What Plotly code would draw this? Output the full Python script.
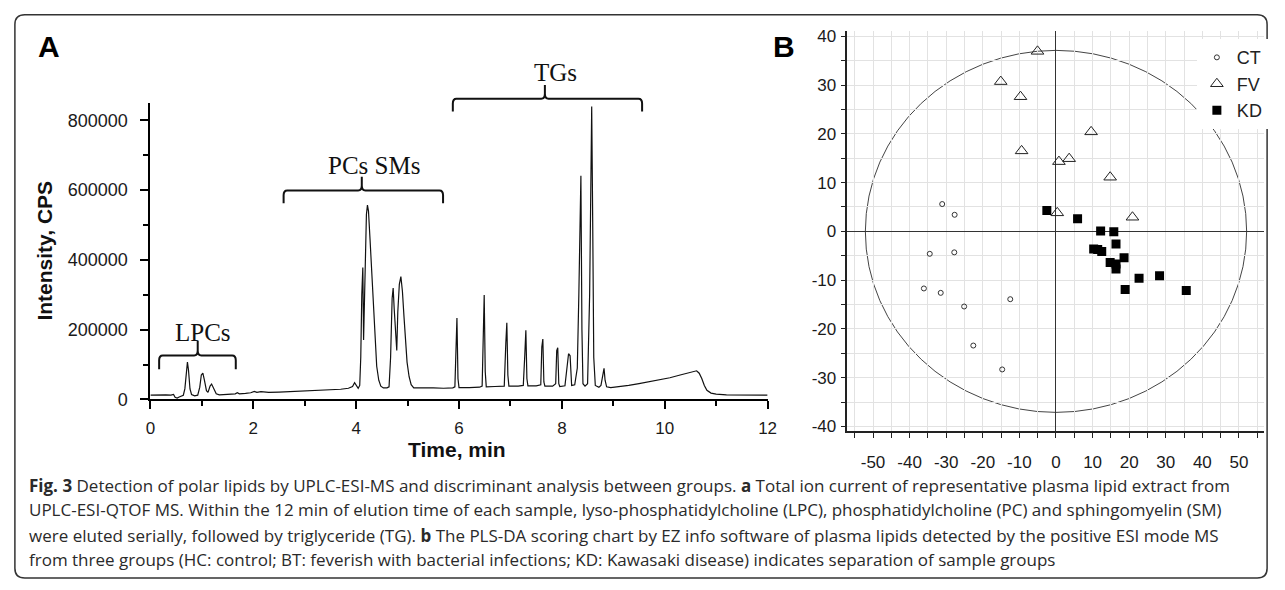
import plotly.graph_objects as go

W, H = 1285, 590

# ---------------- Panel A data: total ion chromatogram ----------------
time_min = [0.00, 0.10, 0.20, 0.30, 0.40, 0.45, 0.48, 0.52, 0.56, 0.60, 0.64, 0.67, 0.70, 0.72, 0.74,
            0.77, 0.80, 0.86, 0.92, 0.96, 0.99, 1.02, 1.05, 1.09, 1.12, 1.16, 1.19, 1.23, 1.28, 1.34,
            1.45, 1.55, 1.65, 1.69, 1.73, 1.85, 1.95, 2.02, 2.07, 2.15, 2.30, 2.50, 2.70, 2.90, 3.10,
            3.30, 3.50, 3.70, 3.85, 3.93, 3.97, 4.00, 4.04, 4.07, 4.09, 4.11, 4.13, 4.145, 4.16, 4.18,
            4.20, 4.22, 4.24, 4.27, 4.30, 4.33, 4.36, 4.40, 4.44, 4.48, 4.53, 4.60, 4.64, 4.67, 4.70,
            4.72, 4.74, 4.77, 4.79, 4.81, 4.84, 4.87, 4.90, 4.93, 4.96, 4.99, 5.03, 5.07, 5.12, 5.30,
            5.50, 5.70, 5.88, 5.92, 5.94, 5.96, 5.98, 6.00, 6.20, 6.40, 6.45, 6.47, 6.49, 6.51, 6.53,
            6.70, 6.88, 6.91, 6.93, 6.95, 6.97, 7.15, 7.25, 7.28, 7.30, 7.32, 7.34, 7.50, 7.59, 7.61,
            7.63, 7.65, 7.67, 7.82, 7.88, 7.90, 7.92, 7.94, 7.96, 8.06, 8.10, 8.13, 8.16, 8.19, 8.25,
            8.30, 8.33, 8.35, 8.37, 8.39, 8.41, 8.45, 8.50, 8.54, 8.56, 8.58, 8.60, 8.62, 8.65, 8.72,
            8.76, 8.80, 8.82, 8.84, 8.87, 8.95, 9.10, 9.30, 9.50, 9.70, 9.90, 10.10, 10.30, 10.45,
            10.55, 10.62, 10.67, 10.72, 10.77, 10.82, 10.90, 11.00, 11.20, 11.50, 12.00]
intensity_cps = [12000, 13000, 12000, 13000, 12000, 14000, 6000, 4000, 7000, 9000, 12000, 30000, 95000, 107000, 85000,
                 30000, 14000, 10000, 12000, 35000, 70000, 75000, 55000, 25000, 20000, 38000, 44000, 30000, 16000, 13000,
                 14000, 15000, 16000, 19000, 16000, 17000, 19000, 23000, 20000, 22000, 20000, 21000, 22000, 23000, 25000,
                 26000, 28000, 29000, 32000, 37000, 48000, 40000, 32000, 40000, 120000, 300000, 378000, 170000, 250000, 430000,
                 530000, 557000, 540000, 460000, 370000, 270000, 180000, 95000, 55000, 38000, 33000, 33000, 36000, 120000, 290000,
                 319000, 260000, 180000, 140000, 250000, 330000, 352000, 310000, 238000, 170000, 107000, 65000, 42000, 33000, 32000,
                 33000, 32000, 33000, 36000, 150000, 233000, 60000, 34000, 34000, 35000, 38000, 200000, 299000, 80000, 36000,
                 37000, 38000, 160000, 220000, 70000, 38000, 38000, 40000, 130000, 198000, 60000, 39000, 39000, 42000, 150000,
                 173000, 50000, 38000, 38000, 45000, 140000, 148000, 45000, 37000, 39000, 100000, 131000, 125000, 40000, 42000,
                 90000, 300000, 560000, 641000, 200000, 45000, 38000, 45000, 300000, 650000, 840000, 500000, 120000, 40000, 35000,
                 40000, 80000, 89000, 55000, 36000, 34000, 36000, 40000, 45000, 50000, 56000, 62000, 70000, 76000,
                 80000, 82000, 75000, 60000, 40000, 26000, 18000, 15000, 13000, 12000, 12000]

a_xticks = [0, 2, 4, 6, 8, 10, 12]
a_yticks = [0, 200000, 400000, 600000, 800000]

# bracket groups: label, left, middle, right (min)
bracket_labels = ["LPCs", "PCs SMs", "TGs"]
bracket_left = [0.17, 2.59, 5.88]
bracket_mid = [0.92, 4.11, 7.67]
bracket_right = [1.66, 5.69, 9.56]
bracket_label_x = [1.03, 4.34, 7.875]

# ---------------- Panel B data: PLS-DA scores ----------------
ct_x = [-31.1, -27.7, -34.5, -27.8, -36.1, -31.5, -25.1, -12.5, -22.6, -14.7]
ct_y = [5.6, 3.4, -4.6, -4.3, -11.7, -12.6, -15.4, -13.9, -23.4, -28.3]
fv_x = [-5.05, -15.1, -9.7, -9.4, 0.8, 3.6, 9.6, 14.8, 0.35, 20.9]
fv_y = [36.9, 30.7, 27.6, 16.5, 14.3, 14.9, 20.4, 11.1, 3.8, 2.9]
kd_x = [-2.5, 5.9, 12.2, 15.8, 16.4, 10.3, 11.4, 12.5, 18.6, 14.8, 16.4, 16.4, 22.7, 28.3, 18.9, 35.6]
kd_y = [4.3, 2.6, 0.1, -0.1, -2.6, -3.6, -3.7, -4.1, -5.4, -6.4, -6.7, -7.7, -9.6, -9.1, -11.9, -12.1]
ellipse_ax = [52.1, 37.1]
b_xticks = [-50, -40, -30, -20, -10, 0, 10, 20, 30, 40, 50]
b_yticks = [-40, -30, -20, -10, 0, 10, 20, 30, 40]

caption_lines = [
    "<b>Fig. 3</b> Detection of polar lipids by UPLC-ESI-MS and discriminant analysis between groups. <b>a</b> Total ion current of representative plasma lipid extract from",
    "UPLC-ESI-QTOF MS. Within the 12 min of elution time of each sample, lyso-phosphatidylcholine (LPC), phosphatidylcholine (PC) and sphingomyelin (SM)",
    "were eluted serially, followed by triglyceride (TG). <b>b</b> The PLS-DA scoring chart by EZ info software of plasma lipids detected by the positive ESI mode MS",
    "from three groups (HC: control; BT: feverish with bacterial infections; KD: Kawasaki disease) indicates separation of sample groups",
]

# ---------------- layout geometry ----------------
def px(x):
    return x / W

def py(y):
    return 1 - y / H

A_XDOM = [px(147), px(771)]
A_YDOM = [py(405), py(101)]
A_YR = [0, 851000]
B_XDOM = [px(851.7), px(1272.7)]
B_YDOM = [py(437.3), py(28)]
B_XR = [-57.0, 56.8]
B_YR = [-40.9, 41.0]

fig = go.Figure()

fig.add_trace(go.Scatter(x=time_min, y=intensity_cps, mode="lines",
                         line=dict(color="#111111", width=1.2), showlegend=False,
                         xaxis="x", yaxis="y"))

fig.add_trace(go.Scatter(x=ct_x, y=ct_y, mode="markers", name="CT",
                         marker=dict(symbol="circle-open", size=5, color="#333333", line=dict(width=1)),
                         xaxis="x2", yaxis="y2"))
fig.add_trace(go.Scatter(x=fv_x, y=fv_y, mode="markers", name="FV",
                         marker=dict(symbol="triangle-up-open", size=11, color="#222222", line=dict(width=1)),
                         xaxis="x2", yaxis="y2"))
fig.add_trace(go.Scatter(x=kd_x, y=kd_y, mode="markers", name="KD",
                         marker=dict(symbol="square", size=9, color="#000000"),
                         xaxis="x2", yaxis="y2"))

shapes = []
annotations = []

# brackets (panel A): pixel y of (horizontal line, end, tip, label centre)
bracket_px = [
    (360, 374, 345, 336),
    (191, 204, 177, 165),
    (97, 110, 83, 70),
]
for lab, xl, xm, xr, lx, (yl, ye, yt, ylab) in zip(bracket_labels, bracket_left, bracket_mid,
                                                    bracket_right, bracket_label_x, bracket_px):
    w = 0.07
    line_p, end_p, tip_p = py(yl), py(ye), py(yt)
    c = 5 / H
    path = (f"M {xl},{end_p} L {xl},{line_p - c} Q {xl},{line_p} {xl + w},{line_p} "
            f"L {xm - w},{line_p} Q {xm},{line_p} {xm},{line_p + c} L {xm},{tip_p} "
            f"M {xm},{line_p + c} Q {xm},{line_p} {xm + w},{line_p} "
            f"L {xr - w},{line_p} Q {xr},{line_p} {xr},{line_p - c} L {xr},{end_p}")
    shapes.append(dict(type="path", path=path, xref="x", yref="paper",
                       line=dict(color="#111111", width=2)))
    annotations.append(dict(text=lab, x=lx, y=py(ylab), xref="x", yref="paper",
                            showarrow=False, xanchor="center", yanchor="middle",
                            font=dict(family="Liberation Serif, Times New Roman, serif", size=25, color="#111111")))

# ellipse (panel B)
shapes.append(dict(type="circle", xref="x2", yref="y2", x0=-ellipse_ax[0], x1=ellipse_ax[0],
                   y0=-ellipse_ax[1], y1=ellipse_ax[1], line=dict(color="#444444", width=1), layer="below"))

# outer rounded frame
fx0, fy0, fx1, fy1, r = 10, 11, 1276, 588, 10
frame = (f"M {px(fx0 + r)},{py(fy0)} L {px(fx1 - r)},{py(fy0)} Q {px(fx1)},{py(fy0)} {px(fx1)},{py(fy0 + r)} "
         f"L {px(fx1)},{py(fy1 - r)} Q {px(fx1)},{py(fy1)} {px(fx1 - r)},{py(fy1)} "
         f"L {px(fx0 + r)},{py(fy1)} Q {px(fx0)},{py(fy1)} {px(fx0)},{py(fy1 - r)} "
         f"L {px(fx0)},{py(fy0 + r)} Q {px(fx0)},{py(fy0)} {px(fx0 + r)},{py(fy0)} Z")
shapes.append(dict(type="path", path=frame, xref="paper", yref="paper",
                   line=dict(color="#333333", width=1.5)))

# panel letters
annotations.append(dict(text="<b>A</b>", x=px(44), y=py(44), xref="paper", yref="paper", showarrow=False,
                        xanchor="center", yanchor="middle",
                        font=dict(family="Liberation Sans, Arial", size=30, color="#000000")))
annotations.append(dict(text="<b>B</b>", x=px(788), y=py(44), xref="paper", yref="paper", showarrow=False,
                        xanchor="center", yanchor="middle",
                        font=dict(family="Liberation Sans, Arial", size=30, color="#000000")))

# axis titles panel A
annotations.append(dict(text="<b>Intensity, CPS</b>", x=px(40), y=py(253), xref="paper", yref="paper",
                        showarrow=False, textangle=-90, xanchor="center", yanchor="middle",
                        font=dict(family="Liberation Sans, Arial", size=21, color="#111111")))
annotations.append(dict(text="<b>Time, min</b>", x=px(457), y=py(456), xref="paper", yref="paper",
                        showarrow=False, xanchor="center", yanchor="middle",
                        font=dict(family="Liberation Sans, Arial", size=21, color="#111111")))

# caption
cap_y = [493, 518, 544, 569]
for txt, yy in zip(caption_lines, cap_y):
    annotations.append(dict(text=txt, x=px(22), y=py(yy), xref="paper", yref="paper", showarrow=False,
                            xanchor="left", yanchor="middle",
                            font=dict(family="Open Sans, sans-serif", size=17, color="#2a2a2a")))

tickfont_a = dict(family="Liberation Sans, Arial", size=18, color="#1a1a1a")
tickfont_b = dict(family="Liberation Sans, Arial", size=17, color="#1a1a1a")

fig.update_layout(
    width=W, height=H, margin=dict(l=0, r=0, t=0, b=0),
    paper_bgcolor="white", plot_bgcolor="white",
    shapes=shapes, annotations=annotations,
    xaxis=dict(domain=A_XDOM, range=[0, 12], anchor="y", tickvals=a_xticks,
               showgrid=False, zeroline=False, showline=True, linecolor="#000000", linewidth=2,
               ticks="outside", ticklen=8, tickwidth=1.5, tickcolor="#000000",
               minor=dict(dtick=1, tick0=0, ticks="outside", ticklen=5, tickwidth=1.5, tickcolor="#000000", showgrid=False),
               tickfont=dict(family="Liberation Sans, Arial", size=17, color="#1a1a1a"), ticklabelstandoff=4),
    yaxis=dict(domain=A_YDOM, range=A_YR, anchor="x", tickvals=a_yticks, tickformat="d",
               showgrid=False, zeroline=False, showline=True, linecolor="#000000", linewidth=2,
               ticks="outside", ticklen=8, tickwidth=1.5, tickcolor="#000000",
               minor=dict(dtick=100000, tick0=0, ticks="outside", ticklen=5, tickwidth=1.5, tickcolor="#000000", showgrid=False),
               tickfont=tickfont_a, ticklabelstandoff=9),
    xaxis2=dict(domain=B_XDOM, range=B_XR, anchor="y2", tickvals=b_xticks,
                ticktext=[str(v) for v in b_xticks],
                showgrid=True, gridcolor="#e2e2e2", gridwidth=1,
                zeroline=True, zerolinecolor="#333333", zerolinewidth=1,
                showline=True, linecolor="#222222", linewidth=1.5,
                ticks="outside", ticklen=5, tickwidth=1, tickcolor="#222222",
                minor=dict(dtick=5, tick0=0, ticks="outside", ticklen=5, tickwidth=1, tickcolor="#222222",
                           showgrid=True, gridcolor="#e2e2e2", gridwidth=1),
                tickfont=tickfont_b, ticklabelstandoff=10),
    yaxis2=dict(domain=B_YDOM, range=B_YR, anchor="x2", tickvals=b_yticks,
                ticktext=[str(v) for v in b_yticks],
                showgrid=True, gridcolor="#e2e2e2", gridwidth=1,
                zeroline=True, zerolinecolor="#333333", zerolinewidth=1,
                showline=True, linecolor="#222222", linewidth=1.5,
                ticks="outside", ticklen=5, tickwidth=1, tickcolor="#222222",
                minor=dict(dtick=5, tick0=0, ticks="outside", ticklen=5, tickwidth=1, tickcolor="#222222",
                           showgrid=True, gridcolor="#e2e2e2", gridwidth=1),
                tickfont=tickfont_b, ticklabelstandoff=1),
    legend=dict(x=px(1205), y=py(36), xanchor="left", yanchor="top", bgcolor="white",
                borderwidth=0, font=dict(family="Liberation Sans, Arial", size=18, color="#222222"),
                itemsizing="trace", tracegroupgap=0),
)

fig.write_html(
    "out.html",
    config={"displayModeBar": False},
    post_script=("document.documentElement.style.margin='0';document.body.style.margin='0';"
                 "document.body.style.padding='0';document.body.style.overflow='hidden';"
                 "document.documentElement.style.overflow='hidden';"
                 "var gd=document.getElementById('{plot_id}');"
                 "gd.style.display='block';"
                 "gd.parentElement.style.height='590px';gd.parentElement.style.width='1285px';"
                 "gd.parentElement.style.overflow='hidden';"),
)
